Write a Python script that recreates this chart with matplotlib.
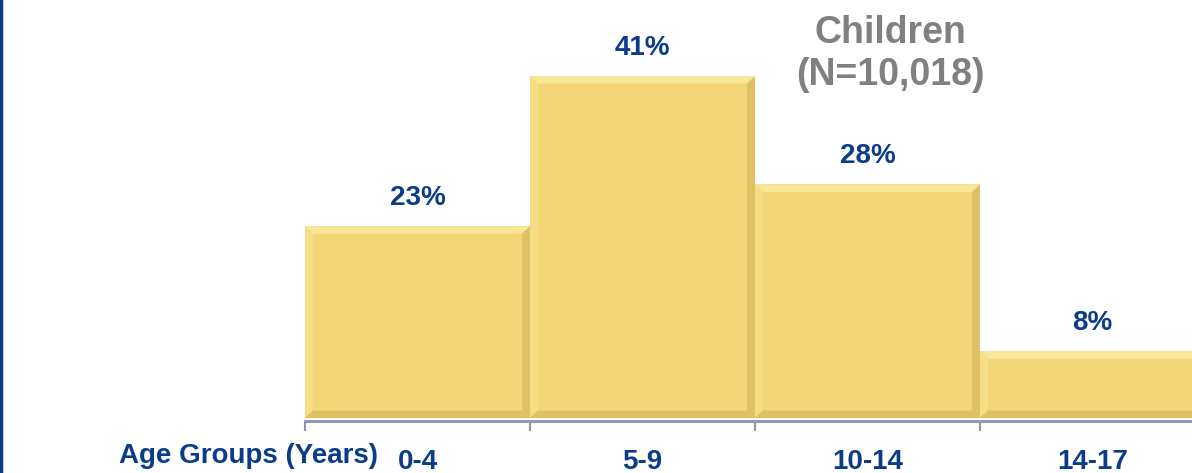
"""Age distribution of children (step-style bar chart with bevelled bars)."""

import matplotlib.pyplot as plt
from matplotlib.lines import Line2D
from matplotlib.patches import Polygon

# Chart data
AGE_GROUPS = ["0-4", "5-9", "10-14", "14-17"]
SHARES = [23, 41, 28, 8]
TITLE = "Children\n(N=10,018)"
AXIS_LABEL = "Age Groups (Years)"

# Styling
BAR_COLOR = "#F4D676"
TOP_BEVEL = "#FAE698"
LEFT_BEVEL = "#F7DD84"
SIDE_SHADE = "#E0C064"
BLUE = "#0B3C8A"
GREY = "#808080"
AXIS_COLOR = "#8E95AA"

plt.rcParams["font.family"] = ["Liberation Sans", "DejaVu Sans"]

fig = plt.figure(figsize=(11.92, 4.73), dpi=100)
ax = fig.add_axes([305 / 1192, 55 / 473, 900 / 1192, 417 / 473])

positions = list(range(len(AGE_GROUPS)))
bars = ax.bar(positions, SHARES, width=1.0, color=BAR_COLOR, edgecolor="none", zorder=2)

# Bevel effect: light top/left faces, darker right/bottom faces
dx, dy = 0.035, 0.9
for bar in bars:
    x0 = bar.get_x()
    x1 = x0 + bar.get_width()
    h = bar.get_height()
    faces = [
        ([(x0, h), (x1, h), (x1 - dx, h - dy), (x0 + dx, h - dy)], TOP_BEVEL),
        ([(x0, 0), (x0, h), (x0 + dx, h - dy), (x0 + dx, dy)], LEFT_BEVEL),
        ([(x1, 0), (x1, h), (x1 - dx, h - dy), (x1 - dx, dy)], SIDE_SHADE),
        ([(x0, 0), (x1, 0), (x1 - dx, dy), (x0 + dx, dy)], SIDE_SHADE),
    ]
    for pts, col in faces:
        ax.add_patch(Polygon(pts, closed=True, facecolor=col, edgecolor="none", zorder=3))

# Percentage labels above each bar
for pos, val in zip(positions, SHARES):
    ax.annotate(f"{val}%", (pos, val), xytext=(0, 11), textcoords="offset points",
                ha="center", va="bottom", fontsize=20, fontweight="bold", color=BLUE)

ax.set_xlim(-0.5, len(AGE_GROUPS) - 0.5)
ax.set_ylim(0, 50)

for side in ["top", "right", "left"]:
    ax.spines[side].set_visible(False)
ax.spines["bottom"].set_color(AXIS_COLOR)
ax.spines["bottom"].set_linewidth(2)
ax.spines["bottom"].set_position(("outward", 2))
ax.set_yticks([])

# Boundary ticks (major) and category labels (minor)
ax.set_xticks([p - 0.5 for p in positions] + [len(AGE_GROUPS) - 0.5])
ax.set_xticklabels([])
ax.tick_params(axis="x", which="major", length=7, width=1.5, color=AXIS_COLOR, direction="out")
ax.set_xticks(positions, minor=True)
ax.set_xticklabels(AGE_GROUPS, minor=True, fontsize=20, fontweight="bold", color=BLUE)
ax.tick_params(axis="x", which="minor", length=0, pad=20)

fig.text(378 / 1192, 1 - 456 / 473, AXIS_LABEL, ha="right", va="center",
         fontsize=20, fontweight="bold", color=BLUE)
fig.text(890 / 1192, 1 - 54 / 473, TITLE, ha="center", va="center",
         fontsize=27, fontweight="bold", color=GREY, linespacing=1.2)

# Blue rule along the left edge of the slide
fig.add_artist(Line2D([0.001, 0.001], [0, 1], transform=fig.transFigure, color=BLUE, lw=2.5))

fig.savefig("out.png", dpi=100)
